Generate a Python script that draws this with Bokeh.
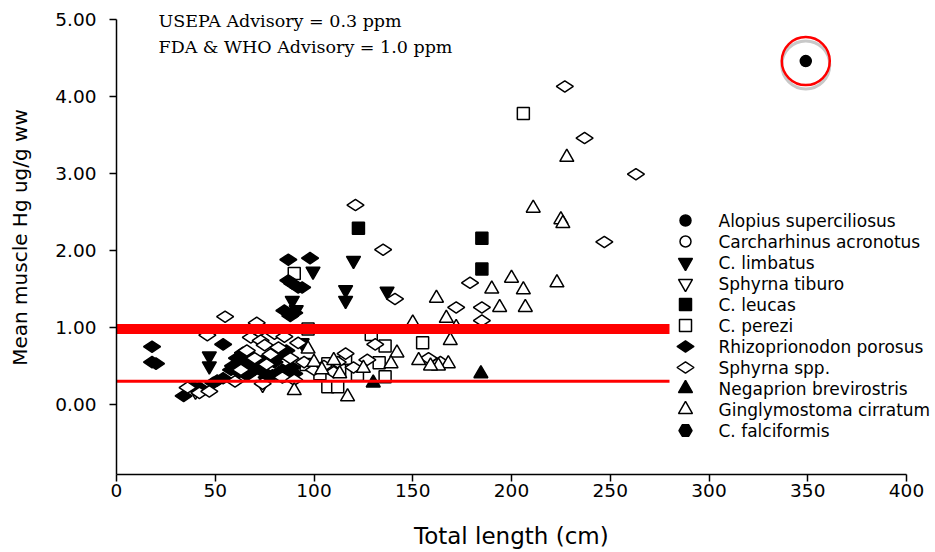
from math import pi
from bokeh.plotting import figure
from bokeh.models import Range1d, Label, NumeralTickFormatter, FixedTicker
from bokeh.core.properties import value
from bokeh.embed import file_html
from bokeh.resources import INLINE

# ---------------- data ----------------
alopius_x = [349]
alopius_y = [4.46]

acronotus_x = []
acronotus_y = []

limbatus_x = [47, 47, 89, 91, 94, 99.5, 102, 116, 116, 120, 137]
limbatus_y = [0.63, 0.50, 1.35, 1.23, 0.80, 1.73, 0.44, 1.35, 1.49, 1.87, 1.47]

tiburo_x = [40, 74]
tiburo_y = [0.17, 0.26]

leucas_x = [122.5, 185, 185]
leucas_y = [2.29, 2.16, 1.76]

perezi_x = [206, 90, 97, 96, 103, 107, 107, 112, 113, 116, 122, 129, 133, 136, 136, 155]
perezi_y = [3.78, 1.70, 0.98, 0.52, 0.40, 0.53, 0.23, 0.23, 0.44, 0.60, 0.39, 0.91, 0.54, 0.76, 0.36, 0.80]

porosus_x = [18, 18, 20, 34, 39, 42, 49, 51, 54, 54, 58, 59, 61, 62, 64, 65, 66, 67, 68, 70,
             72, 74, 75, 76, 79, 80, 82, 84, 85, 86, 87, 87, 88, 89, 89, 90, 92, 94, 98, 85, 90]
porosus_y = [0.75, 0.55, 0.53, 0.11, 0.23, 0.22, 0.28, 0.31, 0.34, 0.78, 0.45, 0.50, 0.60, 0.42, 0.67, 0.55, 0.38, 0.52, 0.62, 0.45,
             0.50, 0.57, 0.41, 0.35, 0.38, 0.55, 0.63, 0.45, 1.22, 0.70, 1.88, 1.61, 1.15, 0.48, 1.57, 1.19, 1.52, 1.52, 1.90, 0.36, 0.40]

sphyrna_x = [227, 237, 263, 247, 121, 135, 141, 179, 172, 185, 185, 116, 131, 127, 158, 36, 42, 47, 46, 55,
             60, 63, 66, 68, 70, 71, 72, 73, 74, 75, 76, 78, 80, 82, 84, 85, 88, 90, 92, 95,
             100, 105, 110, 112, 120, 164]
sphyrna_y = [4.13, 3.46, 2.99, 2.11, 2.59, 2.01, 1.37, 1.58, 1.26, 1.26, 1.09, 0.66, 0.78, 0.58, 0.60, 0.22, 0.15, 0.17, 0.90, 1.14,
             0.30, 0.45, 0.70, 0.87, 0.60, 1.06, 0.95, 0.83, 0.27, 0.77, 0.52, 0.65, 0.92, 0.74, 0.35, 0.88, 0.60, 0.32, 0.80, 0.55,
             0.45, 0.50, 0.42, 0.55, 0.48, 0.55]

negaprion_x = [130, 184.5]
negaprion_y = [0.28, 0.40]

cirratum_x = [228, 211, 225, 226, 223, 200, 190, 206, 194, 207, 162, 167, 150, 172, 169, 168, 163, 159, 153, 142,
              139, 125, 110, 113, 97, 117, 90, 100, 104]
cirratum_y = [3.21, 2.55, 2.40, 2.35, 1.58, 1.64, 1.50, 1.49, 1.26, 1.26, 1.38, 1.12, 1.06, 1.00, 0.83, 0.53, 0.50, 0.50, 0.57, 0.67,
              0.53, 0.47, 0.57, 0.40, 0.72, 0.10, 0.18, 0.55, 0.45]

falciformis_x = []
falciformis_y = []

species = ["Alopius superciliosus", "Carcharhinus acronotus", "C. limbatus", "Sphyrna tiburo",
           "C. leucas", "C. perezi", "Rhizoprionodon porosus", "Sphyrna spp.",
           "Negaprion brevirostris", "Ginglymostoma cirratum", "C. falciformis"]

advisory_levels = [0.3, 0.98]
advisory_end = 280
x_ticks = [0, 50, 100, 150, 200, 250, 300, 350, 400]
y_ticks = [0, 1, 2, 3, 4, 5]
x_axis_bounds = (0, 400)
y_axis_bounds = (-0.91, 5.0)

# ---------------- layout geometry (pixels) ----------------
W, H = 935, 552
FRAME_LEFT, FRAME_BOTTOM = 116, 474
AXIS_PX_X = 790          # pixel length of the drawn x axis (0..400)
AXIS_PX_Y = 455          # pixel length of the drawn y axis (-0.91..5)
sx = AXIS_PX_X / (x_axis_bounds[1] - x_axis_bounds[0])
sy = AXIS_PX_Y / (y_axis_bounds[1] - y_axis_bounds[0])
x_end = x_axis_bounds[0] + (W - FRAME_LEFT) / sx
y_top = y_axis_bounds[0] + FRAME_BOTTOM / sy


def px_x(px):
    return x_axis_bounds[0] + (px - FRAME_LEFT) / sx


def px_y(py):
    return y_axis_bounds[0] + (FRAME_BOTTOM - py) / sy


# ---------------- figure ----------------
p = figure(width=W, height=H, output_backend="svg", toolbar_location=None,
           x_range=Range1d(x_axis_bounds[0], x_end), y_range=Range1d(y_axis_bounds[0], y_top),
           min_border_left=FRAME_LEFT, min_border_right=0, min_border_top=0,
           min_border_bottom=H - FRAME_BOTTOM)
p.outline_line_color = None
p.grid.visible = False
p.background_fill_color = "white"

for ax in (p.xaxis[0], p.yaxis[0]):
    ax.axis_line_width = 1.5
    ax.major_tick_line_width = 1.5
    ax.major_tick_in = 0
    ax.major_tick_out = 7
    ax.minor_tick_line_color = None
    ax.major_label_text_font = "DejaVu Sans"
    ax.major_label_text_font_size = "18.5px"
    ax.major_label_text_color = "black"
    ax.axis_label_text_font = "DejaVu Sans"
    ax.axis_label_text_font_style = "normal"
    ax.axis_label_text_color = "black"

p.xaxis.bounds = x_axis_bounds
p.yaxis.bounds = y_axis_bounds
p.xaxis.ticker = FixedTicker(ticks=x_ticks)
p.yaxis.ticker = FixedTicker(ticks=y_ticks)
p.yaxis.formatter = NumeralTickFormatter(format="0.00")
p.yaxis.axis_label = "Mean muscle Hg ug/g ww"
p.yaxis.axis_label_text_font_size = "20px"
p.yaxis.major_label_standoff = 13
p.yaxis.axis_label_standoff = 20

# x-axis title: trailing no-break spaces centre the visible text under the
# drawn axis (0..400) rather than under the wider frame
p.xaxis.axis_label = "Total length (cm)" + "\u00a0" * 4
p.xaxis.axis_label_text_font_size = "23px"
p.xaxis.major_label_standoff = 2
p.xaxis.axis_label_standoff = 23

styles = [
    (alopius_x, alopius_y, "circle", "black", 11, 0),
    (acronotus_x, acronotus_y, "circle", "white", 11, 0),
    (limbatus_x, limbatus_y, "inverted_triangle", "black", 14, 0),
    (tiburo_x, tiburo_y, "inverted_triangle", "white", 14, 0),
    (leucas_x, leucas_y, "square", "black", 12, 0),
    (perezi_x, perezi_y, "square", "white", 12, 0),
    (porosus_x, porosus_y, "diamond", "black", 17, pi / 2),
    (sphyrna_x, sphyrna_y, "diamond", "white", 17, pi / 2),
    (negaprion_x, negaprion_y, "triangle", "black", 14, 0),
    (cirratum_x, cirratum_y, "triangle", "white", 14, 0),
    (falciformis_x, falciformis_y, "hex", "black", 13, 0),
]

for xs, ys, marker, fill, size, ang in styles:
    p.scatter(x=xs, y=ys, marker=marker, size=size, angle=ang,
              fill_color=fill, line_color="black", line_width=1.5)

# advisory lines (drawn on top of points)
p.segment(x0=[0], x1=[advisory_end], y0=[advisory_levels[0]], y1=[advisory_levels[0]],
          line_color="#ff0000", line_width=3)
p.segment(x0=[0], x1=[advisory_end], y0=[advisory_levels[1]], y1=[advisory_levels[1]],
          line_color="#ff0000", line_width=10)

# highlight ring around the thresher point
p.scatter(x=alopius_x, y=[v - 0.05 for v in alopius_y], marker="circle", size=48,
          fill_color=None, line_color="#c8c8c8", line_width=3)
p.scatter(x=alopius_x, y=alopius_y, marker="circle", size=48,
          fill_color=None, line_color="#ff0000", line_width=2.5)

# advisory note
p.add_layout(Label(x=px_x(158), y=px_y(20), text="USEPA Advisory = 0.3 ppm", text_baseline="middle",
                   text_font="DejaVu Serif", text_font_size="17.5px", text_color="black"))
p.add_layout(Label(x=px_x(158), y=px_y(46), text="FDA & WHO Advisory = 1.0 ppm", text_baseline="middle",
                   text_font="DejaVu Serif", text_font_size="17.5px", text_color="black"))

# legend (drawn by hand so that rows and markers match the original spacing)
LEG_MARK_PX, LEG_TEXT_PX, LEG_TOP_PX, LEG_STEP_PX = 685, 718, 220, 21
for i, (xs, ys, marker, fill, size, ang) in enumerate(styles):
    p.scatter(x=[px_x(LEG_MARK_PX)], y=[px_y(LEG_TOP_PX + i * LEG_STEP_PX)], marker=marker,
              size=size, angle=ang, fill_color=fill, line_color="black", line_width=1.5)
p.text(x=[px_x(LEG_TEXT_PX)] * len(species),
       y=[px_y(LEG_TOP_PX + i * LEG_STEP_PX) for i in range(len(species))],
       text=species, text_font=value("DejaVu Sans"), text_font_size="17px",
       text_baseline="middle", text_align="left", text_color="black")

open("out.html", "w").write(file_html(p, INLINE))
